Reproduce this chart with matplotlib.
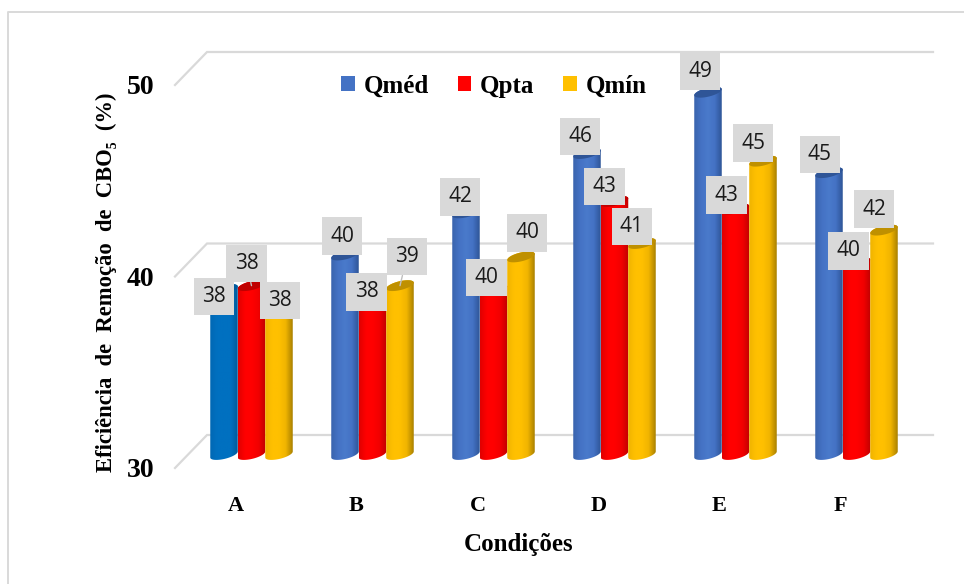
import numpy as np
import matplotlib
matplotlib.use('Agg')
import matplotlib.pyplot as plt
from matplotlib.colors import LinearSegmentedColormap
from matplotlib.lines import Line2D
from matplotlib.patches import Patch, Polygon

plt.rcParams['font.family'] = ['Liberation Serif', 'DejaVu Serif']

# dados
condicoes = ['A', 'B', 'C', 'D', 'E', 'F']
qmed = [38.8, 40.6, 42.8, 45.9, 49.1, 44.9]
qpta = [39.0, 38.2, 38.8, 43.4, 43.0, 40.2]
qmin = [37.7, 39.0, 40.5, 41.2, 45.5, 41.9]
rotulos_qmed = ['38', '40', '42', '46', '49', '45']
rotulos_qpta = ['38', '38', '40', '43', '43', '40']
rotulos_qmin = ['38', '39', '40', '41', '45', '42']

# deslocamento dos rotulos em pixels, em relacao ao topo da barra
desloc_qmed = [(-10, -7), (-3, 19), (-6, 16), (-7, 17), (-8, 21), (-9, 18)]
desloc_qpta = [(-5, 22), (-6, 9), (-7, 12), (-10, 15), (-9, 14), (-8, 12)]
desloc_qmin = [(1, 10), (7, 29), (6, 24), (-10, 17), (-10, 18), (-10, 21)]
# rotulos com linha de ligacao (serie, condicao)
com_linha = [(1, 0), (2, 1)]

W, H = 964, 584
fig = plt.figure(figsize=(W / 100, H / 100), dpi=100)
ax = fig.add_axes([175 / W, (H - 468) / H, 726 / W, 383 / H])
ax.set_xlim(-0.5, 5.5)
ax.set_ylim(30, 50)

px_x = 726 / 6
px_y = 383 / 20
largura = 27.5 / px_x
dx_barra, dy_barra = 16 / px_x, 10 / px_y
dx_fundo, dy_fundo = 32 / px_x, 33 / px_y
cinza = '#d9d9d9'


def cilindro(xc, valor, cores, cor_topo, zorder):
    t = np.linspace(0, 2 * np.pi, 80)
    rx = largura / 2
    ry, incl = 4.5 / px_y, 3 / px_y
    topo = valor + dy_barra
    base = dy_barra + 30 + 3.5 / px_y
    # contorno: metade de baixo da base + arco de cima do topo
    t1 = np.linspace(np.pi, 2 * np.pi, 40)
    t2 = np.linspace(0, np.pi, 40)
    xs = np.r_[xc + rx * np.cos(t1), xc + rx * np.cos(t2)]
    ys = np.r_[base + ry * np.sin(t1) + incl * np.cos(t1),
               topo + ry * np.sin(t2) + incl * np.cos(t2)]
    corpo = Polygon(np.c_[xs, ys], closed=True, fc='none', ec='none', clip_on=False, zorder=zorder)
    ax.add_patch(corpo)
    cmap = LinearSegmentedColormap.from_list('c', cores)
    grad = np.linspace(0, 1, 64).reshape(1, -1)
    im = ax.imshow(grad, cmap=cmap, aspect='auto', zorder=zorder,
                   extent=(xc - rx, xc + rx, base - 1, topo + 1))
    im.set_clip_box(fig.bbox)
    im.set_clip_path(corpo)
    tampa = np.c_[xc + rx * np.cos(t), topo + ry * np.sin(t) + incl * np.cos(t)]
    ax.add_patch(Polygon(tampa, closed=True, fc=cor_topo, ec='none', clip_on=False, zorder=zorder + 0.1))


series = [
    (qmed, rotulos_qmed, desloc_qmed, -1, ['#3a64ad', '#4472c4', '#4a7acb', '#4472c4', '#2f5597'], '#2f5597'),
    (qpta, rotulos_qpta, desloc_qpta, 0, ['#e00000', '#ff0000', '#ff0000', '#f00000', '#c00000'], '#c00000'),
    (qmin, rotulos_qmin, desloc_qmin, 1, ['#f0b400', '#ffc000', '#ffc000', '#f0b400', '#a98000'], '#bf9000'),
]

# paredes de fundo
for v in [30, 40, 50]:
    ax.plot([-0.5, -0.5 + dx_fundo, 5.5 + dx_fundo], [v, v + dy_fundo, v + dy_fundo],
            color=cinza, lw=1.6, clip_on=False, zorder=1, solid_joinstyle='miter')

for n, (vals, rots, desl, pos, cores, cor_topo) in enumerate(series):
    for i, v in enumerate(vals):
        xc = i + dx_barra + pos * largura
        c, ct = cores, cor_topo
        if n == 0 and i == 0:
            # a primeira barra do grafico original e de outro azul
            c = ['#0068b4', '#0070c0', '#0070c0', '#0070c0', '#005a9c']
            ct = '#005a9c'
        cilindro(xc, v, c, ct, 3 + n + i * 0.01)

for n, (vals, rots, desl, pos, cores, cor_topo) in enumerate(series):
    for i, v in enumerate(vals):
        xc = i + dx_barra + pos * largura
        seta = None
        if (n, i) in com_linha:
            seta = dict(arrowstyle='-', color='#bfbfbf', lw=1, shrinkA=0, shrinkB=0)
        ax.annotate(rots[i], (xc, v + dy_barra), xytext=desl[i], textcoords='offset pixels',
                    ha='center', va='center', fontsize=15, family=['Open Sans', 'DejaVu Sans'],
                    color='#1a1a1a', zorder=10, annotation_clip=False,
                    bbox=dict(boxstyle='square,pad=0.4', fc=cinza, ec='none'),
                    arrowprops=seta)

ax.set_xticks(range(len(condicoes)))
ax.set_xticklabels(condicoes, fontsize=16, fontweight='bold')
ax.set_yticks([30, 40, 50])
ax.set_yticklabels(['30', '40', '50'], fontsize=20, fontweight='bold')
ax.tick_params(length=0)
ax.tick_params(axis='y', pad=15)
ax.tick_params(axis='x', pad=20)
for s in ax.spines.values():
    s.set_visible(False)
ax.patch.set_visible(False)

ax.set_xlabel('Condições', fontsize=18, fontweight='bold')
ax.set_ylabel('Eficiência  de  Remoção  de  CBO₅  (%)', fontsize=16.3, fontweight='bold')
ax.yaxis.set_label_coords((117 - 175) / 726, (468 - 282) / 383)
ax.xaxis.set_label_coords((519 - 175) / 726, (468 - 544) / 383)
ax.xaxis.label.set_va('center')

ax.legend(handles=[Patch(fc='#4472c4', label='Qméd'), Patch(fc='#ff0000', label='Qpta'), Patch(fc='#ffc000', label='Qmín')],
          ncols=3, loc='center', bbox_to_anchor=(494 / W, (H - 86) / H), bbox_transform=fig.transFigure,
          frameon=False, prop=dict(size=18, weight='bold'), handlelength=0.55, handleheight=0.55,
          handletextpad=0.35, columnspacing=1.15)

# moldura externa
fig.add_artist(Line2D([8 / W, 8 / W, 1], [0, (H - 12) / H, (H - 12) / H], color=cinza, lw=1.4))

fig.savefig('out.png', dpi=100)
